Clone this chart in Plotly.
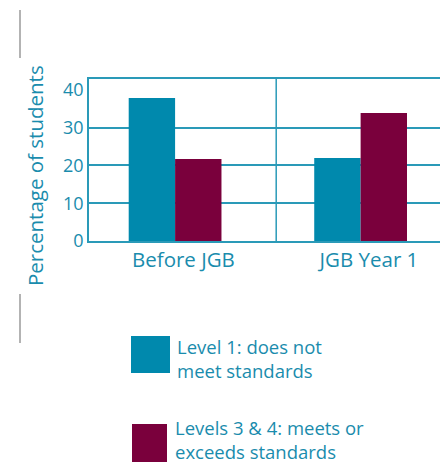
import plotly.graph_objects as go

categories = ["Before JGB", "JGB Year 1"]
series_names = ["Level 1: does not<br>meet standards", "Levels 3 &amp; 4: meets or<br>exceeds standards"]
level1 = [37.9, 22.0]
level34 = [21.7, 33.9]
y_ticks = [0, 10, 20, 30, 40]

TEAL = "#0089ad"
MAROON = "#7a003c"
TXT = "#1a8cad"
LINE = "#2a9ab8"
FONT = "Open Sans"

# the page body adds an 8px margin, so work in shifted pixel coordinates
OFF = 8
W, H = 448 - OFF, 465 - OFF
ML, MT = 89 - OFF, 79 - OFF
PB = 241 - OFF  # bottom of plot area
MB = H - PB
PW = W - ML
PH = PB - MT

def px(x):
    return (x - OFF - ML) / PW

def py(y):
    return (PB - (y - OFF)) / PH

fig = go.Figure()
fig.add_trace(go.Bar(x=categories, y=level1, marker_color=TEAL, width=0.25, offset=-0.295,
                     marker_line_width=0, showlegend=False))
fig.add_trace(go.Bar(x=categories, y=level34, marker_color=MAROON, width=0.25, offset=-0.045,
                     marker_line_width=0, showlegend=False))

fig.update_layout(
    width=W, height=H,
    margin=dict(l=ML, r=0, t=MT, b=MB, pad=0),
    plot_bgcolor="white", paper_bgcolor="white",
    barmode="overlay",
    font=dict(family=FONT, size=18, color=TXT),
    xaxis=dict(range=[-0.509, 1.426], showline=True, mirror=True, linecolor=LINE, linewidth=1.5,
               showgrid=False, ticks="", tickfont=dict(size=20.5, color=TXT), fixedrange=True),
    yaxis=dict(range=[0, 42.9], tickvals=y_ticks, showgrid=False, showline=True, linecolor=LINE,
               linewidth=1.5, ticks="", tickfont=dict(size=18, color=TXT), zeroline=False,
               minor=dict(tickvals=[10, 20, 30], showgrid=True, gridcolor=LINE, gridwidth=1.5, ticks="")),
)

# vertical divider between categories
fig.add_shape(type="line", xref="x", yref="paper", x0=0.5, x1=0.5, y0=0, y1=1,
              line=dict(color=LINE, width=1.5))

# y-axis title with decorative grey rules
fig.add_annotation(xref="paper", yref="paper", x=px(19), y=py(176), text="Percentage of students",
                   textangle=-90, showarrow=False, font=dict(size=20.5, color=TXT))
fig.add_shape(type="line", xref="paper", yref="paper", x0=px(20), x1=px(20), y0=py(10), y1=py(58),
              line=dict(color="#b3b3b3", width=2))
fig.add_shape(type="line", xref="paper", yref="paper", x0=px(20), x1=px(20), y0=py(294), y1=py(343),
              line=dict(color="#b3b3b3", width=2))

# manual legend
legend_items = [
    (TEAL, series_names[0], (131, 170, 336, 373), (176, 358)),
    (MAROON, series_names[1], (132, 167, 424, 462), (174, 439)),
]
for color, name, (x0, x1, y0, y1), (tx, ty) in legend_items:
    fig.add_shape(type="rect", xref="paper", yref="paper", x0=px(x0), x1=px(x1), y0=py(y1), y1=py(y0),
                  fillcolor=color, line=dict(width=0))
    fig.add_annotation(xref="paper", yref="paper", x=px(tx), y=py(ty), text=name, showarrow=False,
                       xanchor="left", yanchor="middle", align="left", borderpad=0,
                       font=dict(size=18.5, color=TXT))

fig.write_html("out.html")
